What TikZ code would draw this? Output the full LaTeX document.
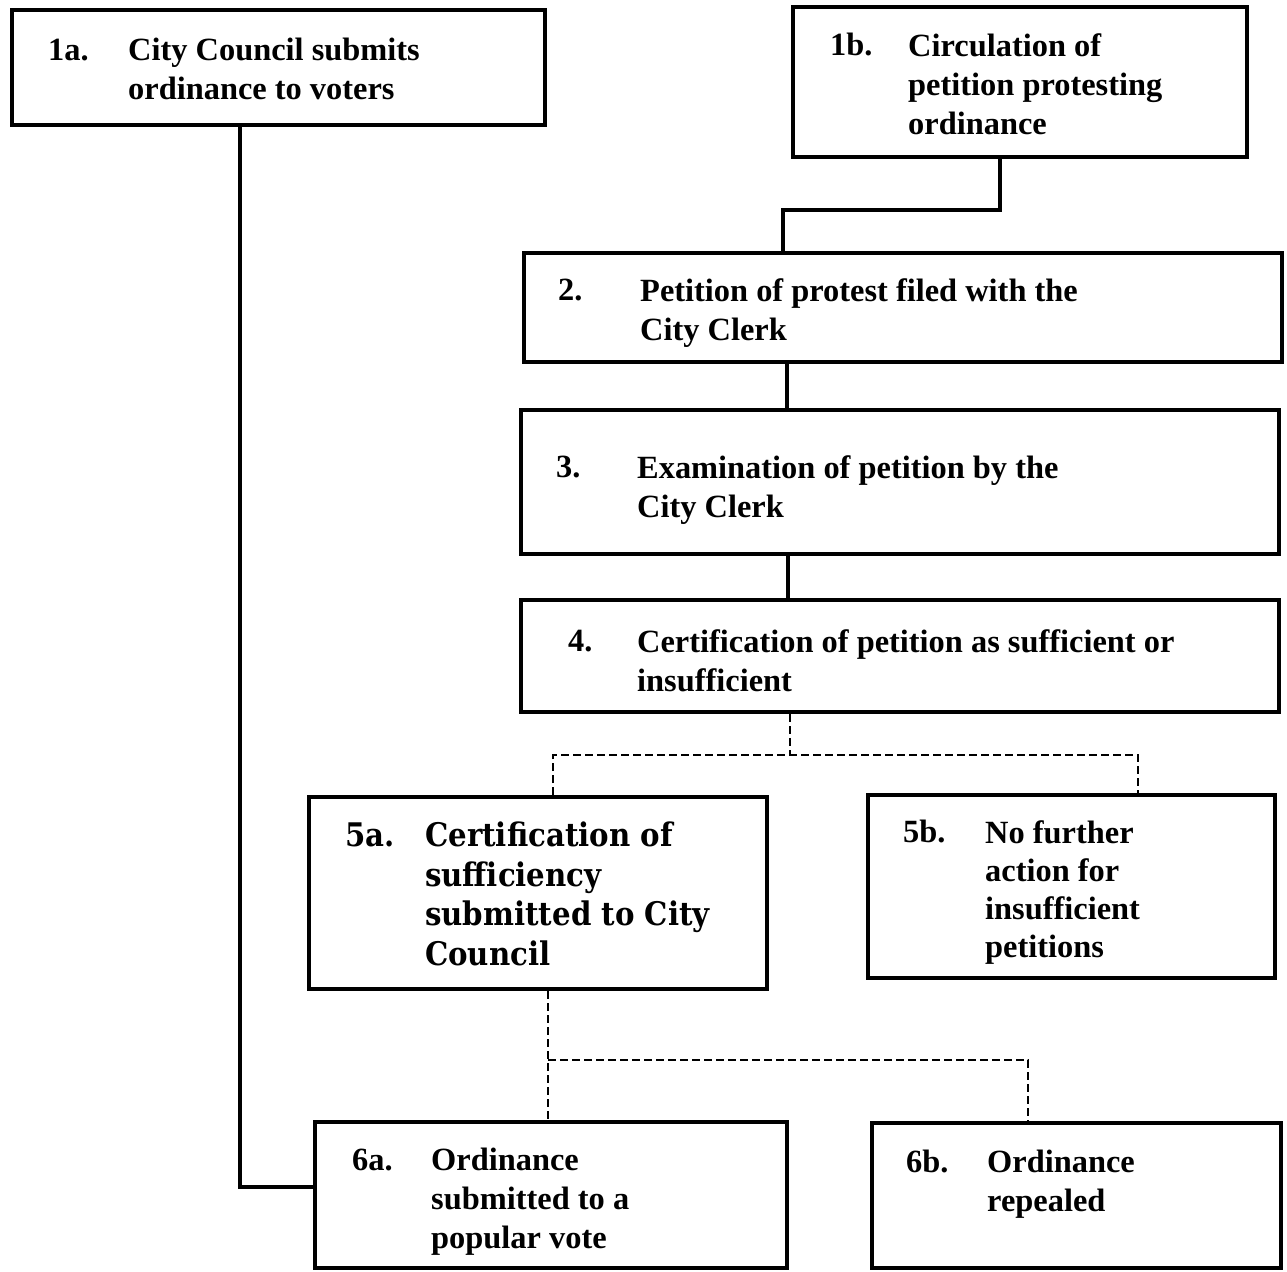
\documentclass[tikz,border=0pt]{standalone}
\usepackage{fontspec}
\setmainfont{Liberation Serif}
\newfontfamily\schfont{DejaVu Serif Condensed}
\usetikzlibrary{calc}
\begin{document}
\begin{tikzpicture}[x=1pt,y=-1pt,
  box/.style={draw,line width=4pt,inner sep=0pt,rectangle},
  body/.style={anchor=north west,inner sep=0pt,align=left,
    font=\fontsize{32.4}{39}\selectfont\bfseries},
  lbl/.style={body,execute at begin node=\strut},
  solidlink/.style={line width=3.5pt},
  dashlink/.style={line width=2pt,dash pattern=on 8pt off 4pt}]
\useasboundingbox (0,0) rectangle (1287,1271);
% boxes (corner to corner)
\node[box,minimum width=533pt,minimum height=115pt] (b1a) at (278.5,67.5) {};
\node[box,minimum width=454pt,minimum height=150pt] (b1b) at (1020,82) {};
\node[box,minimum width=758pt,minimum height=109pt] (b2) at (903,307.5) {};
\node[box,minimum width=758pt,minimum height=144pt] (b3) at (900,482) {};
\node[box,minimum width=758pt,minimum height=112pt] (b4) at (900,656) {};
\node[box,minimum width=458pt,minimum height=192pt] (b5a) at (538,893) {};
\node[box,minimum width=407pt,minimum height=183pt] (b5b) at (1071.5,886.5) {};
\node[box,minimum width=472pt,minimum height=146pt] (b6a) at (551,1195) {};
\node[box,minimum width=409pt,minimum height=145pt] (b6b) at (1076.5,1195.5) {};
% step numbers and step texts
\node[lbl] (n1a) at (48,33) {1a.};
\node[body] (t1a) at (128,38) {City Council submits\\ordinance to voters};
\node[lbl] (n1b) at (830,28) {1b.};
\node[body] (t1b) at (908,33) {Circulation of\\petition protesting\\ordinance};
\node[lbl] (n2) at (558,273) {2.};
\node[body] (t2) at (640,278) {Petition of protest filed with the\\City Clerk};
\node[lbl] (n3) at (556,450) {3.};
\node[body] (t3) at (637,455) {Examination of petition by the\\City Clerk};
\node[lbl] (n4) at (568,624) {4.};
\node[body] (t4) at (637,629) {Certification of petition as sufficient or\\insufficient};
\node[lbl,font=\fontsize{32.5}{39.5}\selectfont\schfont\bfseries] (n5a) at (345,819) {5a.};
\node[body,font=\fontsize{32.5}{39.5}\selectfont\schfont\bfseries] (t5a) at (425,822) {Certification of\\sufficiency\\submitted to City\\Council};
\node[lbl,font=\fontsize{32.4}{38}\selectfont\bfseries] (n5b) at (903,816) {5b.};
\node[body,font=\fontsize{32.4}{38}\selectfont\bfseries] (t5b) at (985,820) {No further\\action for\\insufficient\\petitions};
\node[lbl] (n6a) at (352,1143) {6a.};
\node[body] (t6a) at (431,1148) {Ordinance\\submitted to a\\popular vote};
\node[lbl] (n6b) at (906,1145) {6b.};
\node[body] (t6b) at (987,1150) {Ordinance\\repealed};
% solid connectors
\draw[solidlink] ([xshift=-38.5pt]b1a.south) |- ([yshift=8pt]b6a.west);
\draw[solidlink] ([xshift=-20pt]b1b.south) -- ++(0,51) -| ([xshift=-120pt]b2.north);
\draw[solidlink] ([xshift=-116pt]b2.south) -- ([xshift=-113pt]b3.north);
\draw[solidlink] ([xshift=-112pt]b3.south) -- ([xshift=-112pt]b4.north);
% dashed branches
\coordinate (j4) at ($(b4.south)+(-110,41)$);
\draw[dashlink] ([xshift=-110pt]b4.south) -- (j4);
\draw[dashlink] ([xshift=15pt]b5a.north) |- (j4) -| ([xshift=66.5pt]b5b.north);
\coordinate (j5) at ($(b5a.south)+(10,69)$);
\draw[dashlink] ([xshift=10pt]b5a.south) -- (j5) -- ([xshift=-3pt]b6a.north);
\draw[dashlink] (j5) -| ([xshift=-48.5pt]b6b.north);
\end{tikzpicture}
\end{document}
